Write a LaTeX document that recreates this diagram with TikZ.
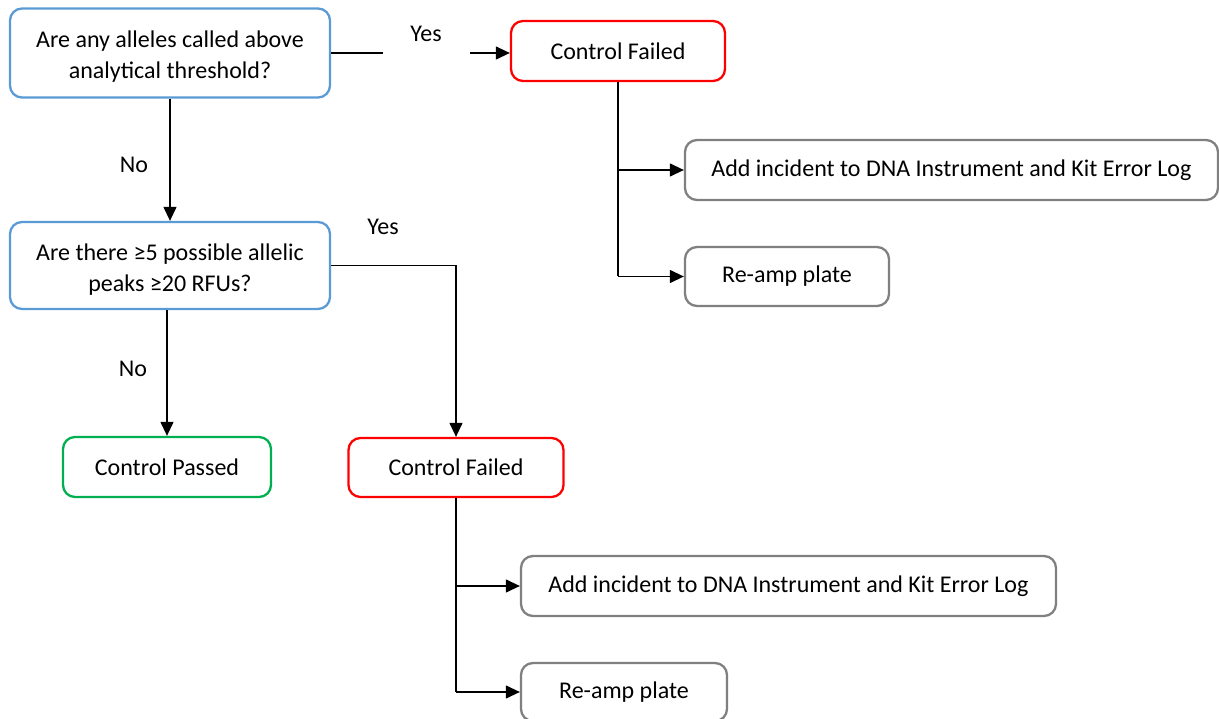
\documentclass[tikz,border=0pt]{standalone}
\usepackage{fontspec}
\setmainfont{Carlito}
\usetikzlibrary{arrows.meta}
\definecolor{qblue}{RGB}{91,155,213}
\definecolor{fred}{RGB}{255,0,0}
\definecolor{pgreen}{RGB}{0,176,80}
\definecolor{agray}{RGB}{128,128,128}
% two centred lines, set slightly low in their box
\newcommand{\twolines}[2]{\raisebox{-4pt}[\height][\depth]{\begin{tabular}{@{}c@{}}#1\\#2\end{tabular}}}
\begin{document}
\begin{tikzpicture}[x=1pt,y=-1pt,
  every node/.style={font=\fontsize{24}{31}\selectfont, text=black},
  box/.style={draw, line width=2.3pt, rounded corners=12pt, fill=white,
              align=center, inner sep=0pt},
  question/.style={box, draw=qblue},
  failed/.style={box, draw=fred},
  passed/.style={box, draw=pgreen},
  action/.style={box, draw=agray},
  conn/.style={line width=1.3pt, draw=black},
  arr/.style={conn, -{Triangle[length=14pt,width=13pt]}},
  lbl/.style={inner sep=0pt}]
\useasboundingbox (0,0) rectangle (1219,719);

% decision boxes
\node[question, minimum width=320, minimum height=89] (q1) at (170,53)
  {\twolines{Are any alleles called above}{analytical threshold?}};
\node[question, minimum width=320, minimum height=87] (q2) at (170,265.5)
  {\twolines{Are there ≥5 possible allelic}{peaks ≥20 RFUs?}};

% outcomes
\node[failed, minimum width=214, minimum height=60] (cf1) at (618,51) {Control Failed};
\node[passed, minimum width=208, minimum height=60] (cp) at (167,467) {Control Passed};
\node[failed, minimum width=215, minimum height=59] (cf2) at (456,467.5) {Control Failed};

% follow-up actions
\node[action, minimum width=533, minimum height=60] (add1) at (951.5,170)
  {Add incident to DNA Instrument and Kit Error Log};
\node[action, minimum width=204, minimum height=59] (ra1) at (787,276.5) {Re-amp plate};
\node[action, minimum width=535, minimum height=60] (add2) at (788.5,586)
  {Add incident to DNA Instrument and Kit Error Log};
\node[action, minimum width=206, minimum height=58] (ra2) at (624,692) {Re-amp plate};

% connectors
\draw[arr] (q1.east) -- (q1.east -| cf1.west);
\node[lbl, fill=white, minimum width=87, minimum height=38] (y1) at (426,37)
  {\raisebox{6pt}{Yes}};
\draw[arr] (q1.south) -- (q1.south |- q2.north);
\node[lbl] (n1) at (134,165) {No};

\draw[conn] (cf1.south) -- (cf1.south |- ra1.west) coordinate (b1);
\draw[arr] (cf1.south |- add1.west) -- (add1.west);
\draw[arr] (b1) -- (ra1.west);

\draw[arr] (q2.east) -| (cf2.north);
\node[lbl] (y2) at (383,227) {Yes};
\draw[arr] (q2.south -| cp.north) -- (cp.north);
\node[lbl] (n2) at (133,369) {No};

\draw[conn] (cf2.south) -- (cf2.south |- ra2.west) coordinate (b2);
\draw[arr] (cf2.south |- add2.west) -- (add2.west);
\draw[arr] (b2) -- (ra2.west);
\end{tikzpicture}
\end{document}
